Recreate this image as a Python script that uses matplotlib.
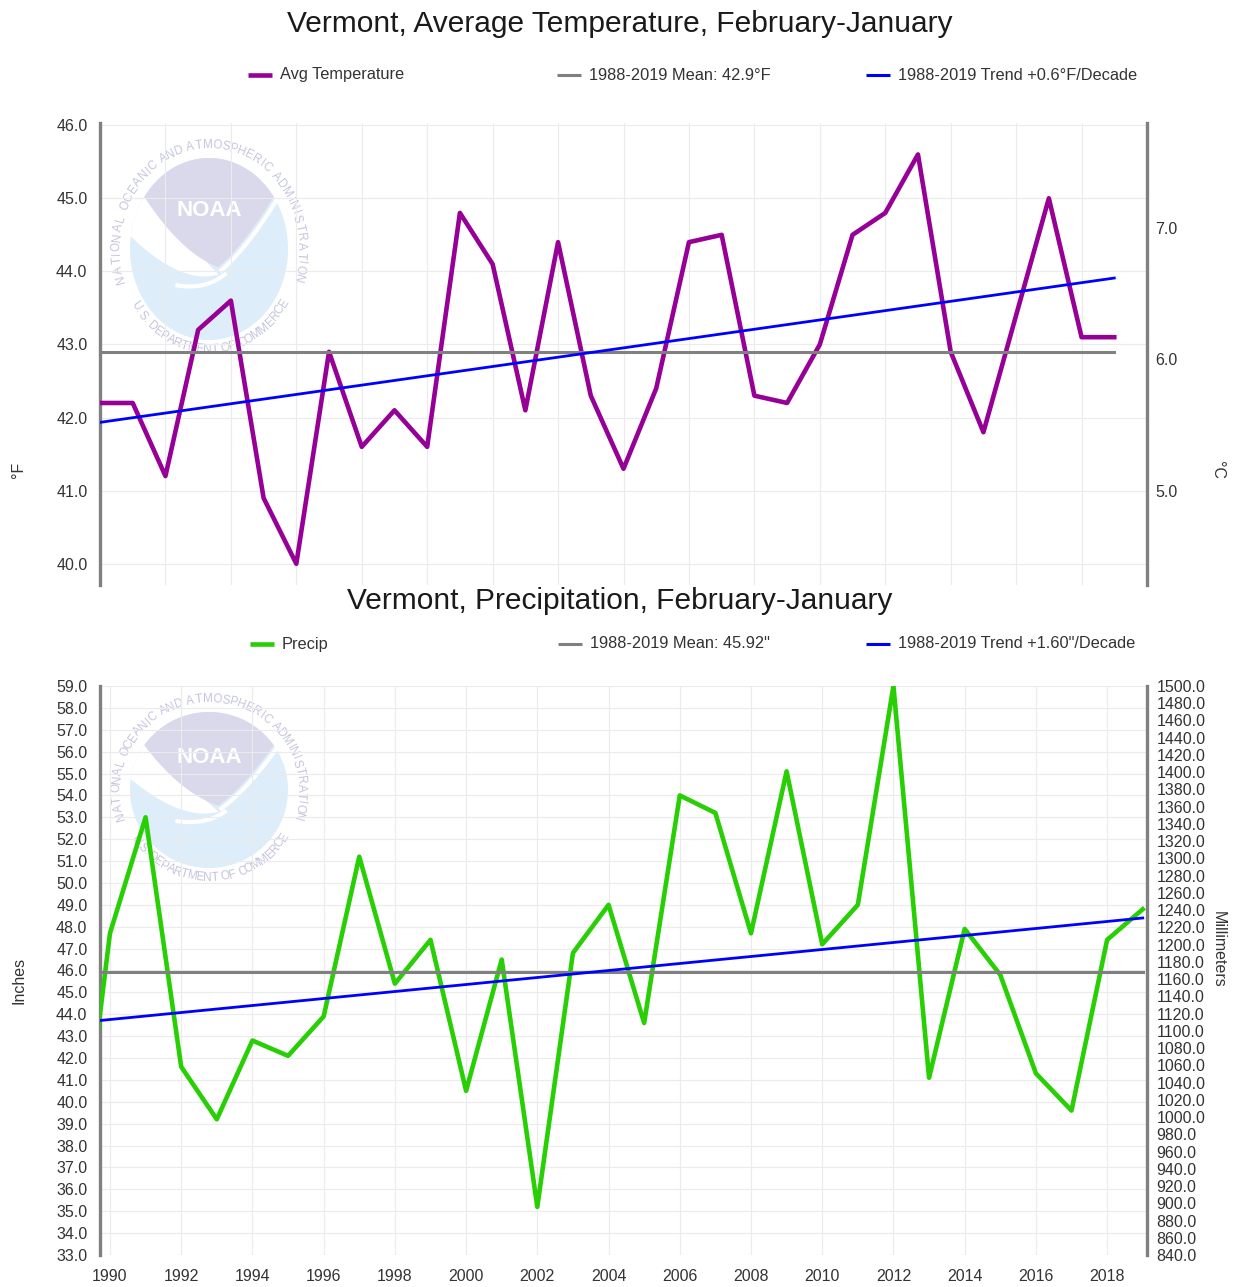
"""Vermont annual (Feb-Jan) temperature and precipitation, NOAA Climate-at-a-Glance style."""
import numpy as np
import matplotlib
matplotlib.use("Agg")
import matplotlib.pyplot as plt

plt.rcParams["font.family"] = ["Liberation Sans", "DejaVu Sans"]

# ---- data ----
YEARS_T = list(range(1988, 2020))
TEMP_F = [42.2, 42.2, 41.2, 43.2, 43.6, 40.9, 40.0, 42.9, 41.6, 42.1,
          41.6, 44.8, 44.1, 42.1, 44.4, 42.3, 41.3, 42.4, 44.4, 44.5,
          42.3, 42.2, 43.0, 44.5, 44.8, 45.6, 42.9, 41.8, 43.4, 45.0,
          43.1, 43.1]
MEAN_T = 42.9          # degF, 1988-2019
TREND_T = 0.6          # degF / decade

YEARS_P = list(range(1989, 2020))
PRECIP_IN = [34.5, 47.7, 53.0, 41.6, 39.2, 42.8, 42.1, 43.9, 51.2, 45.4,
             47.4, 40.5, 46.5, 35.2, 46.8, 49.0, 43.6, 54.0, 53.2, 47.7,
             55.1, 47.2, 49.0, 59.0, 41.1, 47.9, 45.8, 41.3, 39.6, 47.4,
             48.8]
MEAN_P = 45.92         # inches, 1988-2019
TREND_P = 1.60         # inches / decade
PERIOD = [1988, 2019]

T_YTICKS = [40.0, 41.0, 42.0, 43.0, 44.0, 45.0, 46.0]
C_YTICKS = [5.0, 6.0, 7.0]
P_YTICKS = list(range(33, 60))
MM_YTICKS = list(range(840, 1501, 20))
X_TICKS = list(range(1990, 2019, 2))

PURPLE = "#960096"
GREEN = "#27cf04"
BLUE = "#0000ff"
GRAY = "#808080"
TXT = "#333333"

W, H = 1238, 1287
fig = plt.figure(figsize=(W / 100, H / 100), dpi=100)

# full-figure pixel canvas for titles, legends, watermark
bg = fig.add_axes([0, 0, 1, 1], zorder=0)
bg.set_xlim(0, W); bg.set_ylim(H, 0); bg.axis("off")


def px_axes(x0, y0, x1, y1):
    return fig.add_axes([x0 / W, 1 - y1 / H, (x1 - x0) / W, (y1 - y0) / H], zorder=1)


def qbez(p0, p1, p2, n=40):
    t = np.linspace(0, 1, n)[:, None]
    return (1 - t) ** 2 * p0 + 2 * (1 - t) * t * p1 + t ** 2 * p2


def char_w(ch):
    if ch in " .I":
        return 0.32
    if ch in "MW":
        return 0.85
    return 0.68


def arc_text(s, cx, cy, rx, ry, a0, a1, bottom=False):
    w = np.array([char_w(c) for c in s])
    mid = (np.cumsum(w) - w / 2) / w.sum()
    for ch, f in zip(s, mid):
        a = a0 + (a1 - a0) * f
        r = np.radians(a)
        rot = a + 90 if bottom else a - 90
        bg.text(cx + rx * np.cos(r), cy - ry * np.sin(r), ch, rotation=rot,
                rotation_mode="anchor", ha="center", va="center",
                fontsize=8.5, color="#c4c4df")


def noaa_logo(cx, cy, rx, ry):
    th = np.linspace(0, 2 * np.pi, 200)
    bg.fill(cx + rx * np.cos(th), cy - ry * np.sin(th), color="#ddedf9", lw=0)

    def P(deg):
        a = np.radians(deg)
        return np.array([cx + rx * np.cos(a), cy - ry * np.sin(a)])

    tip = np.array([cx + 0.12 * rx, cy + 0.2 * ry])
    # white left wing
    wing = np.vstack([np.array([P(d) for d in np.linspace(145, 172, 20)]),
                      qbez(P(172), np.array([cx - 0.35 * rx, cy + 0.4 * ry]),
                           tip + np.array([0, 0.08 * ry]))])
    bg.fill(wing[:, 0], wing[:, 1], color="white", lw=0)
    right = qbez(P(35), np.array([cx + 0.45 * rx, cy - 0.05 * ry]), tip)
    bg.plot(right[:, 0] + 3, right[:, 1] + 3, color="white", lw=3)
    # lavender sky
    arc = np.array([P(d) for d in np.linspace(145, 35, 60)])
    left = qbez(tip, np.array([cx - 0.35 * rx, cy + 0.05 * ry]), P(145))
    sky = np.vstack([arc, right, left])
    bg.fill(sky[:, 0], sky[:, 1], color="#dad9ec", lw=0)
    tail = qbez(np.array([cx + 0.2 * rx, cy + 0.28 * ry]),
                np.array([cx - 0.05 * rx, cy + 0.45 * ry]),
                np.array([cx - 0.4 * rx, cy + 0.4 * ry]))
    bg.plot(tail[:, 0], tail[:, 1], color="white", lw=3)
    bg.text(cx, cy - 0.42 * ry, "NOAA", color="white", fontsize=16,
            fontweight="bold", ha="center", va="center")
    arc_text("NATIONAL OCEANIC AND ATMOSPHERIC ADMINISTRATION",
             cx, cy, rx + 13, ry + 13, 199, -19)
    arc_text("U.S. DEPARTMENT OF COMMERCE", cx, cy, rx + 10, ry + 10, 212, 330, bottom=True)


def legend_row(y, items):
    for x, color, lw, label in items:
        bg.plot([x, x + 24], [y, y], color=color, lw=lw, solid_capstyle="butt")
        bg.text(x + 32, y, label, ha="left", va="center", fontsize=11.8, color=TXT)


def style(ax, xlim, ylim, yticks, show_x):
    ax.set_facecolor("none")
    ax.set_xlim(xlim); ax.set_ylim(ylim)
    ax.set_yticks(yticks)
    ax.set_yticklabels([f"{v:.1f}" for v in yticks])
    ax.set_xticks(X_TICKS)
    ax.set_xticklabels([str(x) for x in X_TICKS] if show_x else [])
    ax.grid(True, color="#ebebeb", lw=0.8)
    ax.set_axisbelow(True)
    for s in ("top", "bottom", "right"):
        ax.spines[s].set_visible(False)
    ax.spines["left"].set_color(GRAY); ax.spines["left"].set_linewidth(2.4)
    ax.tick_params(length=0, labelsize=11.5, labelcolor=TXT)
    ax.tick_params(axis="y", pad=9)
    ax.tick_params(axis="x", pad=10)


def right_axis(ax, ylim, ticks, pad):
    ax2 = ax.twinx()
    ax2.set_ylim(ylim)
    ax2.set_yticks(ticks)
    ax2.set_yticklabels([f"{v:.1f}" for v in ticks])
    for s in ("top", "bottom", "left"):
        ax2.spines[s].set_visible(False)
    ax2.spines["right"].set_color(GRAY); ax2.spines["right"].set_linewidth(2.4)
    ax2.tick_params(length=0, labelsize=11.5, labelcolor=TXT, pad=pad)
    return ax2


# ---- watermarks ----
noaa_logo(209, 249, 79, 91)
noaa_logo(209, 790, 79, 78)

# ---- temperature ----
ax_t = px_axes(100, 123, 1147, 585)
style(ax_t, (1988, 2020), (39.71, 46.03), T_YTICKS, show_x=False)
ax_t.plot(YEARS_T, TEMP_F, color=PURPLE, lw=3.3, zorder=3)
ax_t.plot(PERIOD, [MEAN_T, MEAN_T], color=GRAY, lw=2.2, zorder=4)
coef = np.polyfit(YEARS_T, TEMP_F, 1)
ax_t.plot(PERIOD, np.polyval(coef, PERIOD), color=BLUE, lw=2.0, zorder=5)
lo, hi = ax_t.get_ylim()
right_axis(ax_t, ((lo - 32) * 5 / 9, (hi - 32) * 5 / 9), C_YTICKS, pad=6)

bg.text(620, 24, "Vermont, Average Temperature, February-January",
        ha="center", va="center", fontsize=21.5, color="#1a1a1a")
legend_row(75, [(248, PURPLE, 3.3, "Avg Temperature"),
                (557, GRAY, 2.2, f"1988-2019 Mean: {MEAN_T:.1f}°F"),
                (866, BLUE, 2.2, f"1988-2019 Trend +{TREND_T:.1f}°F/Decade")])
bg.text(18, 470, "°F", rotation=90, ha="center", va="center", fontsize=11.5, color=TXT)
bg.text(1218, 470, "°C", rotation=270, ha="center", va="center", fontsize=11.5, color=TXT)

# ---- precipitation ----
ax_p = px_axes(100, 686, 1147, 1255)
style(ax_p, (1989.72, 2019.12), (33, 59), P_YTICKS, show_x=True)
ax_p.plot(YEARS_P, PRECIP_IN, color=GREEN, lw=3.3, zorder=3)
ax_p.plot(PERIOD, [MEAN_P, MEAN_P], color=GRAY, lw=2.2, zorder=4)
mid = sum(PERIOD) / 2
ax_p.plot(PERIOD, [MEAN_P + TREND_P / 10 * (y - mid) for y in PERIOD],
          color=BLUE, lw=2.0, zorder=5)
right_axis(ax_p, (840, 1500), MM_YTICKS, pad=7)

bg.text(620, 601, "Vermont, Precipitation, February-January",
        ha="center", va="center", fontsize=21.5, color="#1a1a1a")
legend_row(644, [(250, GREEN, 3.3, "Precip"),
                 (558, GRAY, 2.2, f'1988-2019 Mean: {MEAN_P:.2f}"'),
                 (866, BLUE, 2.2, f'1988-2019 Trend +{TREND_P:.2f}"/Decade')])
bg.text(19, 980, "Inches", rotation=90, ha="center", va="center", fontsize=11.5, color=TXT)
bg.text(1218, 949, "Millimeters", rotation=270, ha="center", va="center", fontsize=11.5, color=TXT)

fig.savefig("out.png", dpi=100)
